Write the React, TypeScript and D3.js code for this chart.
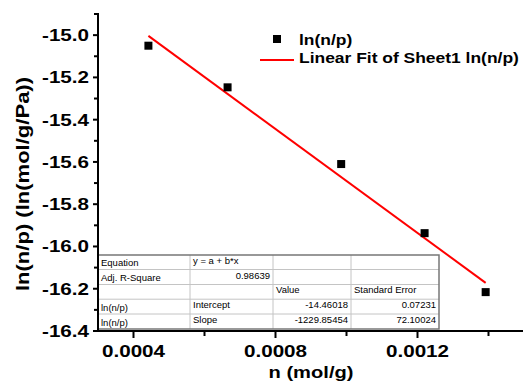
import React from "react";
import { scaleLinear } from "d3";

const nValues = [0.000442, 0.000665, 0.000985, 0.00122, 0.001392];
const lnValues = [-15.05, -15.247, -15.61, -15.937, -16.216];
const intercept = -14.46018;
const slope = -1229.85454;
const xMajor = [0.0004, 0.0008, 0.0012];
const xMinor = [0.0002, 0.0006, 0.001, 0.0014];
const yMajor = [-16.4, -16.2, -16.0, -15.8, -15.6, -15.4, -15.2, -15.0];
const yMinor = [-16.3, -16.1, -15.9, -15.7, -15.5, -15.3, -15.1, -14.9];
const tableRows = [
  ["Equation", "y = a + b*x", "", ""],
  ["Adj. R-Square", "0.98639", "", ""],
  ["", "", "Value", "Standard Error"],
  ["ln(n/p)", "Intercept", "-14.46018", "0.07231"],
  ["ln(n/p)", "Slope", "-1229.85454", "72.10024"],
];

const W = 523;
const H = 383;
const FONT = "'Liberation Sans', Arial, sans-serif";

function Stretched({ x, y, sx, size, anchor = "start", rotate = 0, children }) {
  return (
    <text
      transform={`translate(${x},${y}) rotate(${rotate}) scale(${sx},1)`}
      textAnchor={anchor}
      fontSize={size}
      fontWeight="bold"
      fontFamily={FONT}
      fill="#000"
    >
      {children}
    </text>
  );
}

export default function App() {
  // plot frame
  const left = 98, right = 524, top = 14, bottom = 331;
  const x = scaleLinear().domain([0.0003, 0.0015]).range([left, right]);
  const y = scaleLinear().domain([-16.4, -14.9]).range([bottom, top]);

  const x0 = Math.min(...nValues);
  const x1 = Math.max(...nValues);

  // table geometry
  const colX = [left, 190, 273, 351, 439];
  const rowY = [255, 269.5, 284.5, 299.2, 314, 329];

  return (
    <svg width={W} height={H} style={{ position: "absolute", left: 0, top: 0, background: "#fff" }}>
      {/* fit line */}
      <line
        x1={x(x0)}
        y1={y(intercept + slope * x0)}
        x2={x(x1)}
        y2={y(intercept + slope * x1)}
        stroke="#ff0000"
        strokeWidth={2}
      />

      {/* points */}
      {nValues.map((v, i) => (
        <rect key={i} x={x(v) - 4} y={y(lnValues[i]) - 4} width={8} height={8} fill="#000" />
      ))}

      {/* results table */}
      <g fontFamily={FONT} fontSize={9.5} fill="#000">
        <rect x={colX[0]} y={rowY[0]} width={colX[4] - colX[0]} height={rowY[5] - rowY[0]} fill="#fff" />
        {rowY.slice(1, 5).map((ry, i) => (
          <line key={"r" + i} x1={colX[0]} x2={colX[4]} y1={ry} y2={ry} stroke="#c4c4c4" strokeWidth={1} />
        ))}
        {colX.slice(1, 4).map((cx, i) => (
          <line key={"c" + i} x1={cx} x2={cx} y1={rowY[0]} y2={rowY[5]} stroke="#c4c4c4" strokeWidth={1} />
        ))}
        <rect
          x={colX[0]}
          y={rowY[0]}
          width={colX[4] - colX[0]}
          height={rowY[5] - rowY[0]}
          fill="none"
          stroke="#777"
          strokeWidth={1.5}
        />
        {tableRows.map((row, r) =>
          row.map((cell, c) => {
            if (!cell) return null;
            const numeric = /^-?\d/.test(cell);
            const base = rowY[r + 1] - (c === 0 ? 3.5 : 6);
            return (
              <text
                key={r + "-" + c}
                x={numeric ? colX[c + 1] - 3 : colX[c] + 3}
                y={base}
                textAnchor={numeric ? "end" : "start"}
              >
                {cell}
              </text>
            );
          })
        )}
      </g>

      {/* axes */}
      <g stroke="#000" strokeWidth={2}>
        <line x1={left} x2={left} y1={top - 1} y2={bottom + 1} />
        <line x1={left - 1} x2={right} y1={bottom} y2={bottom} />
        {yMajor.map((t) => (
          <line key={"ym" + t} x1={left - 5} x2={left} y1={y(t)} y2={y(t)} />
        ))}
        {yMinor.map((t) => (
          <line key={"yn" + t} x1={left - 4} x2={left} y1={y(t)} y2={y(t)} />
        ))}
        {xMajor.map((t) => (
          <line key={"xm" + t} x1={x(t)} x2={x(t)} y1={bottom} y2={bottom + 7} />
        ))}
        {xMinor
          .filter((t) => x(t) >= left && x(t) <= right)
          .map((t) => (
            <line key={"xn" + t} x1={x(t)} x2={x(t)} y1={bottom} y2={bottom + 5} />
          ))}
      </g>

      {/* tick labels */}
      {yMajor.map((t) => (
        <Stretched key={"yl" + t} x={89} y={y(t) + 6} sx={1.25} size={16.5} anchor="end">
          {t.toFixed(1)}
        </Stretched>
      ))}
      {xMajor.map((t) => (
        <Stretched key={"xl" + t} x={x(t)} y={356.5} sx={1.25} size={16.5} anchor="middle">
          {t.toFixed(4)}
        </Stretched>
      ))}

      {/* axis titles */}
      <Stretched x={(left + right) / 2} y={378} sx={1.22} size={16.5} anchor="middle">
        n (mol/g)
      </Stretched>
      <Stretched x={29} y={184} sx={1.16} size={19} anchor="middle" rotate={-90}>
        ln(n/p) (ln(mol/g/Pa))
      </Stretched>

      {/* legend */}
      <rect x={273} y={35} width={8} height={8} fill="#000" />
      <Stretched x={299} y={45} sx={1.22} size={14.3}>
        ln(n/p)
      </Stretched>
      <line x1={260} x2={294} y1={60} y2={60} stroke="#ff0000" strokeWidth={2} />
      <Stretched x={299} y={63} sx={1.22} size={14.3}>
        Linear Fit of Sheet1 ln(n/p)
      </Stretched>
    </svg>
  );
}
